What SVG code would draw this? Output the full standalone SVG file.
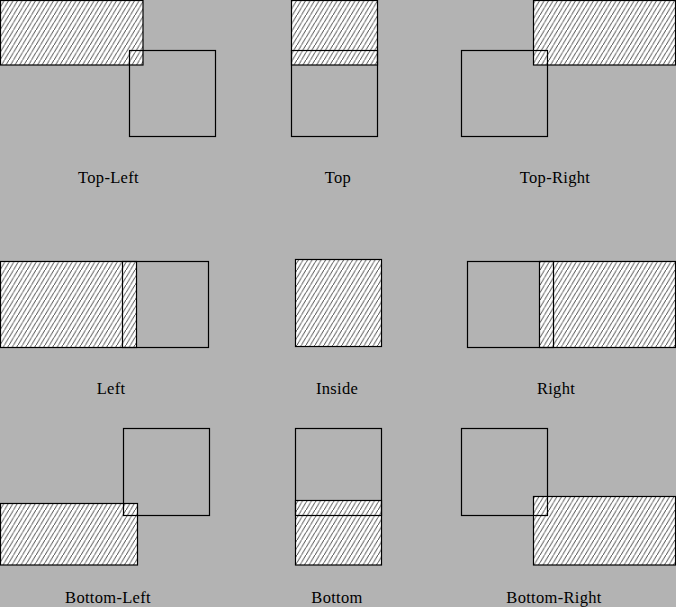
<svg xmlns="http://www.w3.org/2000/svg" width="676" height="607" viewBox="0 0 676 607">
<defs>
<pattern id="hatch" patternUnits="userSpaceOnUse" x="0" y="0" width="4.5" height="7.5">
<rect width="4.5" height="7.5" fill="#ffffff"/>
<line x1="0" y1="7.5" x2="4.5" y2="0" stroke="#333333" stroke-width="0.9"/>
</pattern>
</defs>
<style>
.h{fill:url(#hatch);stroke:#000;stroke-width:1.2}
.b{fill:none;stroke:#000;stroke-width:1.2}
.t{font-family:"Liberation Serif","Times New Roman",serif;font-size:16.5px;letter-spacing:0.3px;fill:#000;text-anchor:middle}
</style>
<rect width="676" height="607" fill="#b3b3b3"/>
<g id="top-left">
<rect class="h" x="0.5" y="0.5" width="142.5" height="64.5"/>
<rect class="b" x="129.5" y="50.5" width="86" height="86"/>
<text class="t" x="108.5" y="182.5">Top-Left</text>
</g>
<g id="top">
<rect class="h" x="291.5" y="0.5" width="86" height="64.5"/>
<rect class="b" x="291.5" y="50.5" width="86" height="86"/>
<text class="t" x="338" y="182.5">Top</text>
</g>
<g id="top-right">
<rect class="h" x="533.5" y="0.5" width="142" height="64.5"/>
<rect class="b" x="461.5" y="50.5" width="86" height="86"/>
<text class="t" x="555" y="182.5">Top-Right</text>
</g>
<g id="left">
<rect class="h" x="0.5" y="261.5" width="136" height="86"/>
<rect class="b" x="122.5" y="261.5" width="86" height="86"/>
<text class="t" x="111" y="393.5">Left</text>
</g>
<g id="inside">
<rect class="h" x="295.5" y="259.5" width="86" height="87"/>
<text class="t" x="337" y="393.5">Inside</text>
</g>
<g id="right">
<rect class="h" x="539.5" y="261.5" width="136" height="86"/>
<rect class="b" x="467.5" y="261.5" width="86" height="86"/>
<text class="t" x="556" y="393.5">Right</text>
</g>
<g id="bottom-left">
<rect class="h" x="0.5" y="503.5" width="137" height="61.5"/>
<rect class="b" x="123.5" y="428.5" width="86" height="87"/>
<text class="t" x="108" y="602.5">Bottom-Left</text>
</g>
<g id="bottom">
<rect class="h" x="295.5" y="500.5" width="86" height="64.5"/>
<rect class="b" x="295.5" y="428.5" width="86" height="87"/>
<text class="t" x="337" y="602.5">Bottom</text>
</g>
<g id="bottom-right">
<rect class="h" x="533.5" y="496.5" width="142" height="68.5"/>
<rect class="b" x="461.5" y="428.5" width="86" height="87"/>
<text class="t" x="554" y="602.5">Bottom-Right</text>
</g>
<g id="connectors"/>
</svg>
